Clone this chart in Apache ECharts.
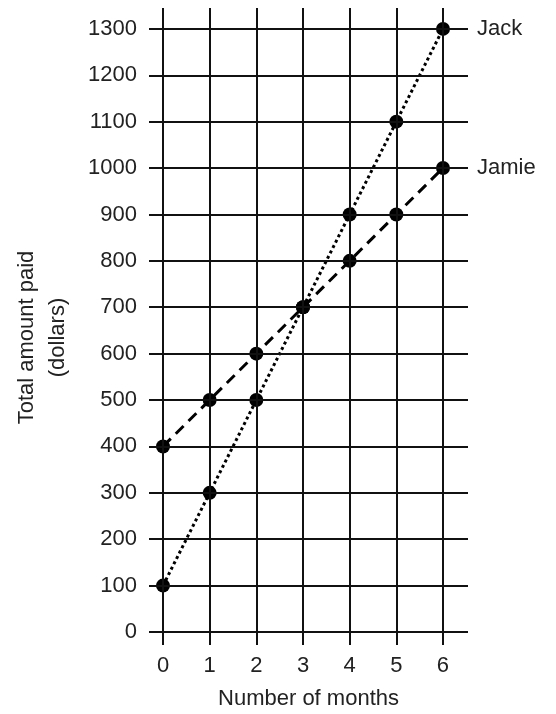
<!DOCTYPE html>
<html>
<head>
<meta charset="utf-8">
<script src="https://cdn.jsdelivr.net/npm/echarts@6/dist/echarts.min.js"></script>
<style>
html, body { margin: 0; padding: 0; background: #fff; }
#main { width: 556px; height: 714px; }
</style>
</head>
<body>
<div id="main"></div>
<script>
var months = [0, 1, 2, 3, 4, 5, 6];
var amountTicks = [0, 100, 200, 300, 400, 500, 600, 700, 800, 900, 1000, 1100, 1200, 1300];
var jack = [100, 300, 500, 700, 900, 1100, 1300];
var jamie = [400, 500, 600, 700, 800, 900, 1000];

var chartDom = document.getElementById('main');
var myChart = echarts.init(chartDom);
var font = 'Liberation Sans';

function pairs(vals) {
    return months.map(function (m, i) { return [m, vals[i]]; });
}

var gridLines = [];
months.forEach(function (m) { gridLines.push({ xAxis: m }); });
amountTicks.forEach(function (v) { gridLines.push({ yAxis: v }); });

var option = {
    animation: false,
    backgroundColor: '#fff',
    grid: {
        left: 149,
        right: 88,
        top: 8,
        bottom: 69,
        outerBoundsMode: 'none',
        containLabel: false
    },
    xAxis: {
        type: 'value',
        min: -0.3,
        max: 6.536,
        axisLine: { show: false },
        axisTick: { show: false },
        splitLine: { show: false },
        axisLabel: {
            customValues: months,
            margin: 10,
            color: '#222',
            fontFamily: font,
            fontSize: 22,
            formatter: function (v) { return String(v); }
        },
        name: 'Number of months',
        nameLocation: 'middle',
        nameGap: 43,
        nameTextStyle: { color: '#222', fontFamily: font, fontSize: 22 }
    },
    yAxis: {
        type: 'value',
        min: -28,
        max: 1345,
        axisLine: { show: false },
        axisTick: { show: false },
        splitLine: { show: false },
        axisLabel: {
            customValues: amountTicks,
            margin: 12,
            color: '#222',
            fontFamily: font,
            fontSize: 22,
            formatter: function (v) { return String(v); }
        },
        name: 'Total amount paid\n(dollars)',
        nameLocation: 'middle',
        nameRotate: 90,
        nameGap: 76,
        nameTextStyle: {
            color: '#222',
            fontFamily: font,
            fontSize: 22,
            lineHeight: 31,
            padding: [0, 22, 0, 0]
        }
    },
    series: [
        {
            type: 'line',
            data: [],
            silent: true,
            z: 1,
            markLine: {
                silent: true,
                symbol: 'none',
                label: { show: false },
                lineStyle: { color: '#111', width: 2, type: 'solid' },
                data: gridLines
            }
        },
        {
            name: 'Jamie',
            type: 'line',
            z: 3,
            data: pairs(jamie),
            symbol: 'circle',
            symbolSize: 14,
            itemStyle: { color: '#000' },
            lineStyle: { color: '#000', width: 3, type: [11, 7] },
            endLabel: {
                show: true,
                formatter: '{a}',
                distance: 34,
                color: '#222',
                fontFamily: font,
                fontSize: 22
            }
        },
        {
            name: 'Jack',
            type: 'line',
            z: 3,
            data: pairs(jack),
            symbol: 'circle',
            symbolSize: 14,
            itemStyle: { color: '#000' },
            lineStyle: { color: '#000', width: 3, type: [3, 3] },
            endLabel: {
                show: true,
                formatter: '{a}',
                distance: 34,
                color: '#222',
                fontFamily: font,
                fontSize: 22
            }
        }
    ]
};
myChart.setOption(option);
</script>
</body>
</html>
